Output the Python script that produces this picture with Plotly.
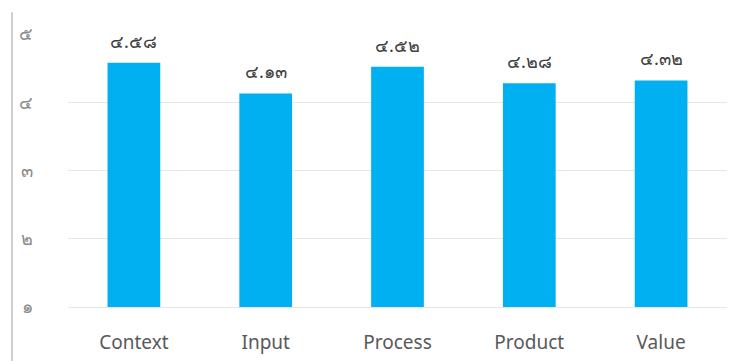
import plotly.graph_objects as go

categories = ["Context", "Input", "Process", "Product", "Value"]
values = [4.58, 4.13, 4.52, 4.28, 4.32]
value_labels = ["๔.๕๘", "๔.๑๓", "๔.๕๒", "๔.๒๘", "๔.๓๒"]
y_tick_values = [1, 2, 3, 4, 5]
y_tick_labels = ["๑", "๒", "๓", "๔", "๕"]

fig = go.Figure()
fig.add_trace(go.Bar(
    x=categories, y=values,
    marker=dict(color="#00B0F0", line=dict(width=0)),
    width=0.4,
))
for c, v, t in zip(categories, values, value_labels):
    fig.add_annotation(x=c, y=v, text=t, showarrow=False, yanchor="bottom",
                       yshift=8, font=dict(size=18, color="#404040"))
fig.update_layout(
    width=729, height=353,
    margin=dict(l=60, r=10, t=26, b=54, autoexpand=False),
    paper_bgcolor="white", plot_bgcolor="white",
    font=dict(family="Noto Sans, DejaVu Sans, sans-serif"),
    showlegend=False,
)
fig.update_yaxes(
    range=[1, 5], tickvals=y_tick_values, ticktext=y_tick_labels,
    showgrid=True, gridcolor="#E6E6E6", gridwidth=1,
    zeroline=False, showline=False, automargin=False,
    tickfont=dict(size=18, color="#8C8C8C"), ticklabelstandoff=34,
)
fig.update_xaxes(
    showline=True, linecolor="#E6E6E6", linewidth=1, automargin=False,
    tickfont=dict(size=19, color="#595959"), ticklabelstandoff=18,
)
fig.add_shape(type="line", xref="paper", yref="paper",
              x0=-0.0850, x1=-0.0850, y0=-0.2, y1=1.08,
              line=dict(color="#BFBFBF", width=1.5))
fig.write_html("out.html")
